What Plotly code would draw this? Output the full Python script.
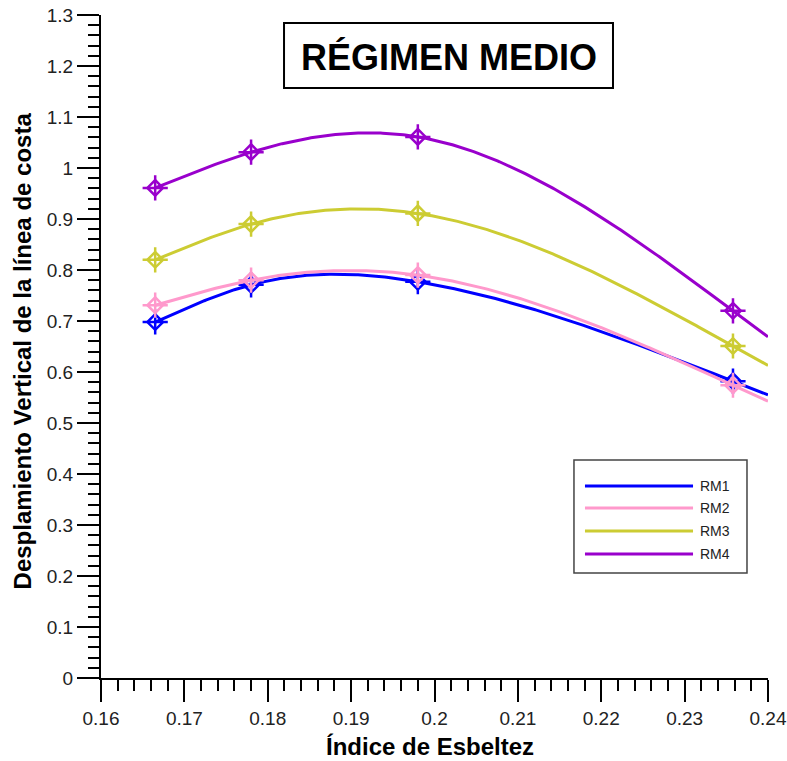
import numpy as np
import plotly.graph_objects as go

# ---- data ----
indice = [0.1665, 0.178, 0.198, 0.2358]
rm1 = [0.698, 0.771, 0.777, 0.582]
rm2 = [0.731, 0.780, 0.790, 0.574]
rm3 = [0.820, 0.890, 0.911, 0.651]
rm4 = [0.961, 1.031, 1.061, 0.720]
series_names = ["RM1", "RM2", "RM3", "RM4"]
series_vals = [rm1, rm2, rm3, rm4]
colors = ["#0000FF", "#FF99CC", "#CCCC33", "#9900CC"]
x_end = 0.24


def natural_spline(xk, yk, xs):
    """Natural cubic spline through the points, linearly extended past the last point."""
    xk = np.asarray(xk, float)
    yk = np.asarray(yk, float)
    n = len(xk)
    h = np.diff(xk)
    d = np.diff(yk) / h
    A = np.zeros((n, n))
    b = np.zeros(n)
    A[0, 0] = 1
    A[-1, -1] = 1
    for i in range(1, n - 1):
        A[i, i - 1] = h[i - 1]
        A[i, i] = 2 * (h[i - 1] + h[i])
        A[i, i + 1] = h[i]
        b[i] = 6 * (d[i] - d[i - 1])
    M = np.linalg.solve(A, b)
    out = np.empty_like(xs)
    for j, x in enumerate(xs):
        if x >= xk[-1]:
            slope = d[-1] + h[-1] * (2 * M[-1] + M[-2]) / 6
            out[j] = yk[-1] + slope * (x - xk[-1])
            continue
        i = min(max(np.searchsorted(xk, x) - 1, 0), n - 2)
        t1 = xk[i + 1] - x
        t0 = x - xk[i]
        out[j] = (M[i] * t1 ** 3 + M[i + 1] * t0 ** 3) / (6 * h[i]) \
            + (yk[i] / h[i] - M[i] * h[i] / 6) * t1 \
            + (yk[i + 1] / h[i] - M[i + 1] * h[i] / 6) * t0
    return out


fig = go.Figure()

for name, vals, col in zip(series_names, series_vals, colors):
    xs = np.linspace(indice[0], x_end, 300)
    ys = natural_spline(indice, vals, xs)
    fig.add_trace(go.Scatter(x=xs, y=ys, mode="lines", name=name,
                             line=dict(color=col, width=3), showlegend=False,
                             hoverinfo="skip"))
    fig.add_trace(go.Scatter(x=indice, y=vals, mode="markers", showlegend=False,
                             marker=dict(symbol="diamond-open", size=12, color=col,
                                         line=dict(color=col, width=2.5))))
    fig.add_trace(go.Scatter(x=indice, y=vals, mode="markers", showlegend=False,
                             marker=dict(symbol="cross-thin-open", size=18, color=col,
                                         line=dict(color=col, width=2.5))))

FONT = "Arial, 'Liberation Sans', sans-serif"

shapes = []
annotations = []

# title box
shapes.append(dict(type="rect", xref="paper", yref="paper",
                   x0=0.2744, x1=0.7676, y0=0.8899, y1=0.9879,
                   line=dict(color="black", width=2), fillcolor="white", layer="above"))
annotations.append(dict(text="<b>RÉGIMEN MEDIO</b>", xref="paper", yref="paper",
                        x=0.521, y=0.936, showarrow=False, xanchor="center", yanchor="middle",
                        font=dict(family=FONT, size=36, color="black")))

# legend box
shapes.append(dict(type="rect", xref="paper", yref="paper",
                   x0=0.7091, x1=0.9685, y0=0.1584, y1=0.3288,
                   line=dict(color="#444444", width=1.5), fillcolor="white", layer="above"))
row_y = [0.2896, 0.2564, 0.2217, 0.1870]
for name, col, yy in zip(series_names, colors, row_y):
    shapes.append(dict(type="line", xref="paper", yref="paper",
                       x0=0.7256, x1=0.8876, y0=yy, y1=yy,
                       line=dict(color=col, width=3), layer="above"))
    annotations.append(dict(text=name, xref="paper", yref="paper", x=0.8951, y=yy,
                            showarrow=False, xanchor="left", yanchor="middle",
                            font=dict(family=FONT, size=14, color="#222222")))

# axis titles
annotations.append(dict(text="<b>Índice de Esbeltez</b>", xref="paper", yref="paper",
                        x=0.493, y=-0.103, showarrow=False, xanchor="center", yanchor="middle",
                        font=dict(family=FONT, size=24, color="black")))
annotations.append(dict(text="<b>Desplamiento Vertical de la línea de costa</b>",
                        xref="paper", yref="paper", x=-0.118, y=0.493, textangle=-90,
                        showarrow=False, xanchor="center", yanchor="middle",
                        font=dict(family=FONT, size=24, color="black")))

fig.update_layout(
    width=787, height=761,
    margin=dict(l=101, r=19, t=15, b=83),
    paper_bgcolor="white", plot_bgcolor="white",
    font=dict(family=FONT, color="black"),
    shapes=shapes, annotations=annotations,
    showlegend=False,
)

fig.update_xaxes(
    range=[0.16, 0.24], dtick=0.01, tick0=0.16, automargin=False,
    showgrid=False, zeroline=False,
    showline=True, linecolor="black", linewidth=2,
    ticks="outside", ticklen=22, tickwidth=2, tickcolor="black",
    tickfont=dict(family=FONT, size=19, color="#222222"),
    minor=dict(dtick=0.002, tick0=0.16, ticks="outside", ticklen=11, tickwidth=2,
               tickcolor="black", showgrid=False),
)
fig.update_yaxes(
    range=[0, 1.3], dtick=0.1, tick0=0, automargin=False,
    showgrid=False, zeroline=False,
    showline=True, linecolor="black", linewidth=2,
    ticks="outside", ticklen=22, tickwidth=2, tickcolor="black",
    tickfont=dict(family=FONT, size=19, color="#222222"),
    minor=dict(dtick=0.02, tick0=0, ticks="outside", ticklen=11, tickwidth=2,
               tickcolor="black", showgrid=False),
)

fig.write_html("out.html", config={"displayModeBar": False},
               post_script="document.body.style.margin='0';document.body.style.overflow='hidden';")
